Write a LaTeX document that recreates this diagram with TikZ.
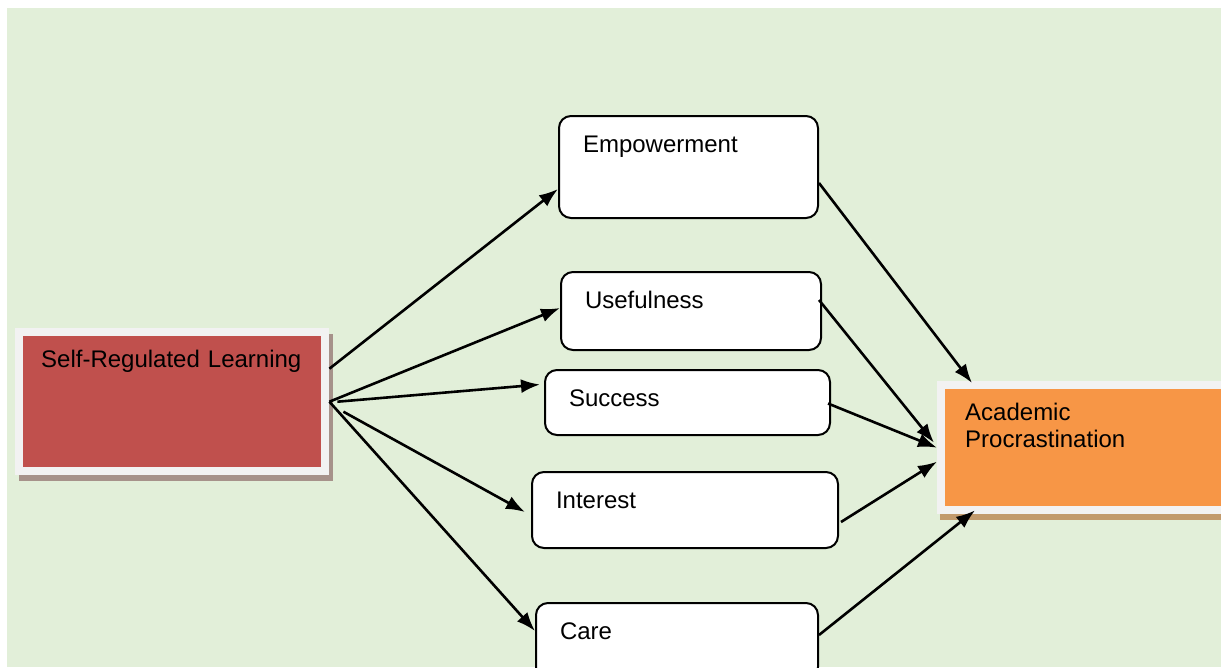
\documentclass[tikz,border=0pt]{standalone}
\usepackage{fontspec}
\setmainfont{Liberation Sans}
\usepackage{xcolor}
\usetikzlibrary{arrows.meta,shadows}

\definecolor{bggreen}{HTML}{E2EFD9}
\definecolor{framegray}{HTML}{F2F2F2}
\definecolor{srlred}{HTML}{C0504D}
\definecolor{srlshade}{HTML}{A6928A}
\definecolor{aporange}{HTML}{F79646}
\definecolor{apshade}{HTML}{C29A6C}

\begin{document}
\begin{tikzpicture}[x=1pt,y=-1pt,
  lbl/.style={font=\fontsize{24}{27}\selectfont, align=left, text height=17pt},
  factor/.style={lbl, draw, line width=2pt, rounded corners=12pt, fill=white,
    anchor=north west, inner xsep=24pt, inner ysep=19pt},
  mainbox/.style={lbl, fill=framegray, anchor=north west, inner xsep=26pt, inner ysep=22pt,
    path picture={\fill[#1] ([shift={(8pt,-8pt)}]path picture bounding box.north west)
      rectangle ([shift={(-8pt,8pt)}]path picture bounding box.south east);}},
  link/.style={-{Latex[length=19pt,width=14pt]}, line width=2.6pt}]
\useasboundingbox (0,0) rectangle (1221,667);
\fill[white] (0,0) rectangle (1221,667);
\fill[bggreen] (7,8) rectangle (1221,667);

% the two outer constructs
\node[mainbox=srlred, text width=262pt, text depth=86pt,
  drop shadow={shadow xshift=4pt, shadow yshift=-6pt, fill=srlshade, opacity=1}]
  (srl) at (15,328) {Self-Regulated Learning};
\node[mainbox=aporange, inner xsep=28pt, text width=257pt, text depth=72pt,
  drop shadow={shadow xshift=3pt, shadow yshift=-6pt, fill=apshade, opacity=1}]
  (ap) at (937,381) {Academic\\Procrastination};

% mediating factors
\foreach \name/\x/\y/\tw/\td/\txt in {emp/558/115/211/47/Empowerment,
    use/560/271/212/23/Usefulness, suc/544/369/237/10/Success,
    int/531/471/258/21/Interest, care/535/602/234/21/Care}
  \node[factor, text width=\tw pt, text depth=\td pt] (\name) at (\x,\y) {\txt};

\draw[link] ([yshift=33pt]srl.east) -- ([yshift=-22pt]emp.west);
\draw[link] (srl.east) -- ([yshift=3pt]use.west);
\draw[link] ([xshift=8pt]srl.east) -- ([xshift=-4pt,yshift=18pt]suc.west);
\draw[link] ([xshift=14pt,yshift=-10pt]srl.east) -- ([xshift=-6pt,yshift=-2pt]int.west);
\draw[link] (srl.east) -- ([yshift=10pt]care.west);

\draw[link] ([yshift=-16pt]emp.east) -- ([xshift=35pt,yshift=-2pt]ap.north west);
\draw[link] ([xshift=-3pt,yshift=11pt]use.east) -- ([xshift=-3pt,yshift=5pt]ap.west);
\draw[link] ([xshift=-3pt,yshift=-1pt]suc.east) -- (ap.west);
\draw[link] ([xshift=2pt,yshift=-12pt]int.east) -- ([yshift=-14pt]ap.west);
\draw[link] ([yshift=6pt]care.east) -- ([xshift=38pt,yshift=4pt]ap.south west);
\end{tikzpicture}
\end{document}
